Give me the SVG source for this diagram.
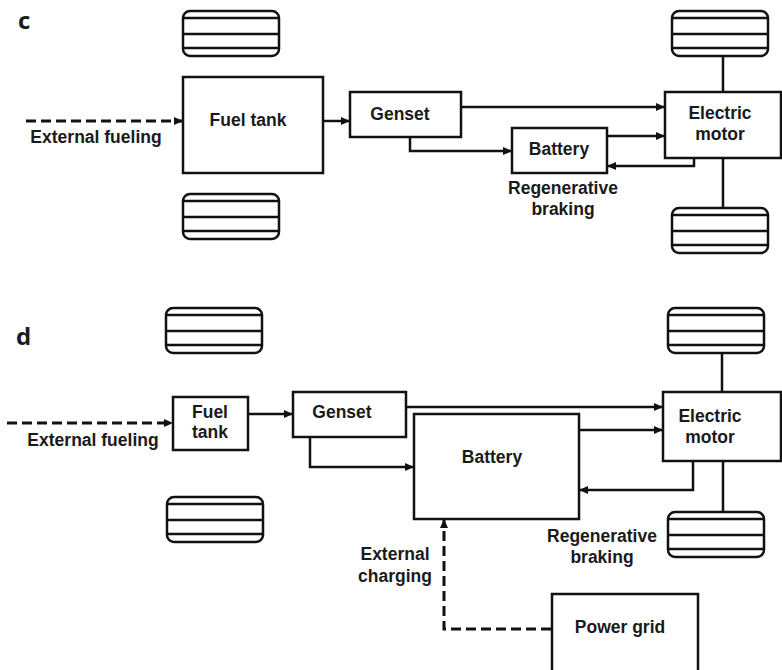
<svg xmlns="http://www.w3.org/2000/svg" xmlns:xlink="http://www.w3.org/1999/xlink" width="782" height="670" viewBox="0 0 782 670">
<style>
  .box { fill: #fff; stroke: #111; stroke-width: 2.5; }
  .t { font-family: "Liberation Sans", Arial, sans-serif; font-weight: bold; font-size: 17.5px; fill: #1a1a1a; text-anchor: middle; }
  .lbl { font-family: "Open Sans", "Liberation Sans", sans-serif; font-weight: bold; font-size: 24px; fill: #1a1a1a; }
  .c { fill: none; stroke: #111; stroke-width: 2.5; }
  .arr { marker-end: url(#ah); }
  .dash { stroke-dasharray: 10 5; stroke-width: 3; }
  .w { fill: #fff; stroke: #111; stroke-width: 2.5; }
</style>
<defs>
  <marker id="ah" markerUnits="userSpaceOnUse" markerWidth="10" markerHeight="9" refX="9" refY="4" orient="auto">
    <path d="M0,0 L9,4 L0,8 z" fill="#111"/>
  </marker>
  <g id="wheel">
    <rect class="w" x="0" y="0" width="96" height="45" rx="7"/>
    <path d="M0,7 H96 M0,23 H96 M0,37 H96" stroke="#111" stroke-width="2.5" fill="none"/>
  </g>
</defs>
<rect width="782" height="670" fill="#fff"/>

<text class="lbl" x="18" y="29">c</text>
<text class="lbl" x="16" y="345">d</text>

<g id="connectors">
  <path class="c arr dash" d="M26,121 H183"/>
  <path class="c arr" d="M323,121 H350"/>
  <path class="c arr" d="M461,107 H665"/>
  <path class="c arr" d="M410,137 V151 H512"/>
  <path class="c arr" d="M607,136 H665"/>
  <path class="c arr" d="M694,158 V166 H607"/>
  <path class="c" d="M723,56 V92 M723,158 V208"/>

  <path class="c arr dash" d="M7,423 H173"/>
  <path class="c arr" d="M248,414 H293"/>
  <path class="c arr" d="M406,407 H663"/>
  <path class="c arr" d="M310,437 V467 H414"/>
  <path class="c arr" d="M579,430 H663"/>
  <path class="c arr" d="M693,461 V490 H579"/>
  <path class="c arr dash" d="M551,629 H444 V519"/>
  <path class="c" d="M722,353 V392 M723,461 V512"/>
</g>

<g id="c-wheel-tl"><use xlink:href="#wheel" x="183" y="11"/></g>
<g id="c-wheel-bl"><use xlink:href="#wheel" x="183" y="194"/></g>
<g id="c-wheel-tr"><use xlink:href="#wheel" x="672" y="11"/></g>
<g id="c-wheel-br"><use xlink:href="#wheel" x="672" y="208"/></g>

<g id="c-fueltank">
  <rect class="box" x="183" y="77" width="140" height="96"/>
  <text class="t" x="248" y="126">Fuel tank</text>
</g>
<g id="c-genset">
  <rect class="box" x="350" y="92" width="111" height="45"/>
  <text class="t" x="400" y="120">Genset</text>
</g>
<g id="c-battery">
  <rect class="box" x="512" y="128" width="95" height="45"/>
  <text class="t" x="559" y="155">Battery</text>
</g>
<g id="c-motor">
  <rect class="box" x="665" y="92" width="116" height="66"/>
  <text class="t" x="720" y="119">Electric</text>
  <text class="t" x="720" y="140">motor</text>
</g>
<g id="c-labels">
  <text class="t" x="96" y="143">External fueling</text>
  <text class="t" x="563" y="194">Regenerative</text>
  <text class="t" x="563" y="215">braking</text>
</g>

<g id="d-wheel-tl"><use xlink:href="#wheel" x="166" y="308"/></g>
<g id="d-wheel-bl"><use xlink:href="#wheel" x="167" y="497"/></g>
<g id="d-wheel-tr"><use xlink:href="#wheel" x="668" y="308"/></g>
<g id="d-wheel-br"><use xlink:href="#wheel" x="668" y="512"/></g>

<g id="d-fueltank">
  <rect class="box" x="173" y="397" width="75" height="53"/>
  <text class="t" x="210" y="418">Fuel</text>
  <text class="t" x="210" y="438">tank</text>
</g>
<g id="d-genset">
  <rect class="box" x="293" y="392" width="113" height="45"/>
  <text class="t" x="342" y="418">Genset</text>
</g>
<g id="d-battery">
  <rect class="box" x="414" y="414" width="165" height="105"/>
  <text class="t" x="492" y="463">Battery</text>
</g>
<g id="d-motor">
  <rect class="box" x="663" y="392" width="118" height="69"/>
  <text class="t" x="710" y="422">Electric</text>
  <text class="t" x="710" y="443">motor</text>
</g>
<g id="d-powergrid">
  <rect class="box" x="552" y="594" width="146" height="90"/>
  <text class="t" x="620" y="633">Power grid</text>
</g>
<g id="d-labels">
  <text class="t" x="93" y="446">External fueling</text>
  <text class="t" x="602" y="542">Regenerative</text>
  <text class="t" x="602" y="563">braking</text>
  <text class="t" x="395" y="560">External</text>
  <text class="t" x="395" y="582">charging</text>
</g>
</svg>
